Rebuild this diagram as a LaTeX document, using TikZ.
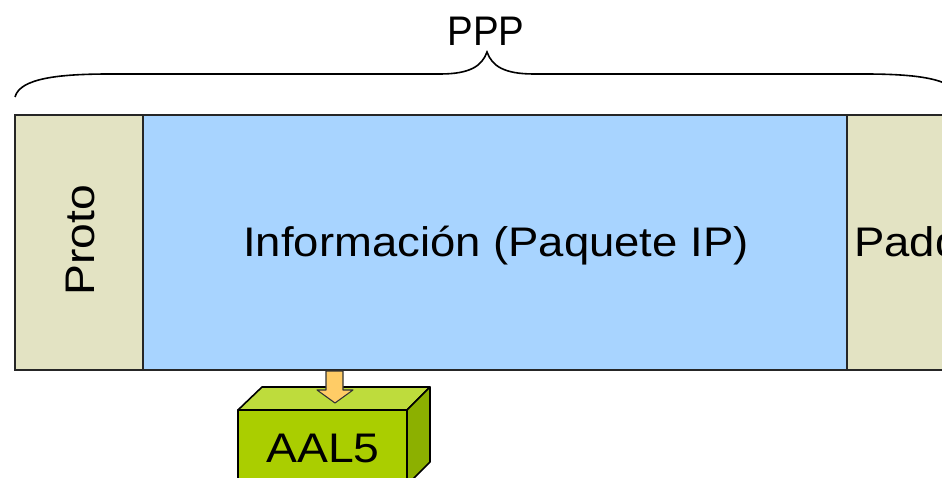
\documentclass[tikz,border=0pt]{standalone}
\usepackage{fontspec}
\setmainfont{Liberation Sans}
\definecolor{beige}{RGB}{227,227,195}
\definecolor{pblue}{RGB}{168,212,255}
\definecolor{limef}{RGB}{170,206,0}
\definecolor{limet}{RGB}{190,220,60}
\definecolor{limes}{RGB}{140,176,0}
\definecolor{arrowc}{RGB}{255,204,102}
\begin{document}
\begin{tikzpicture}[x=0.75pt,y=-0.75pt,
  box/.style={draw=black!85,line width=1.5pt},
  cube/.style={draw=black,line width=1.2pt,line join=round},
  lbl/.style={font=\fontsize{31}{37}\selectfont,inner sep=0pt}]
\useasboundingbox (0,0) rectangle (942,478);
\clip (0,0) rectangle (942,478);
% frame fields
\draw[box,fill=beige] (15,115) rectangle (143,370);
\draw[box,fill=pblue] (143,115) rectangle (847,370);
\draw[box,fill=beige] (847,115) rectangle (1000,370);
\node[lbl,rotate=90] (proto) at (80,240) {\scalebox{1.12}[1]{Proto}};
\node[lbl] (info) at (496,246) {\scalebox{1.1}[1]{Información (Paquete IP)}};
\node[lbl,anchor=west] (pad) at (854,246) {\scalebox{1.1}[1]{Padding}};
% brace
\draw[line width=1.2pt] (15,97) .. controls (20,78) and (60,74) .. (110,74) -- (440,74)
  .. controls (470,74) and (482,66) .. (487,52)
  .. controls (492,66) and (504,74) .. (534,74) -- (864,74)
  .. controls (914,74) and (954,78) .. (959,97);
\node[lbl] (ppp) at (486,31) {\scalebox{0.93}[1]{PPP}};
% AAL5 cube
\fill[limef] (238,410) rectangle (407,490);
\draw[cube,fill=limet] (238,410) -- (262,387) -- (430,387) -- (407,410) -- cycle;
\draw[cube,fill=limes] (407,410) -- (430,387) -- (430,462) -- (407,485) -- cycle;
\draw[cube] (238,490) -- (238,410) -- (407,410) -- (407,490);
\node[font=\fontsize{31}{37}\selectfont,inner sep=0pt] (aal) at (323,448) {\scalebox{1.12}[1]{AAL5}};
% arrow
\draw[black!80,line width=0.8pt,fill=arrowc,line join=round] (326,371) -- (343,371) -- (343,390) -- (353,390) -- (335,403) -- (317,390) -- (326,390) -- cycle;
\end{tikzpicture}
\end{document}
